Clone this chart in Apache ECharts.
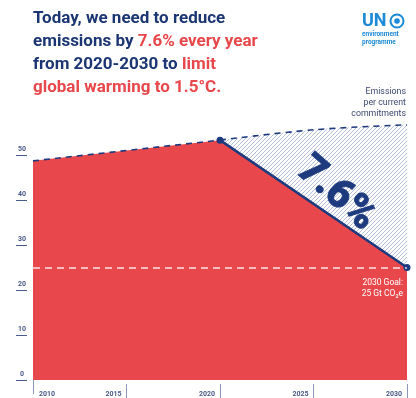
<!DOCTYPE html>
<html>
<head>
<meta charset="utf-8">
<script src="https://cdn.jsdelivr.net/npm/echarts@6/dist/echarts.min.js"></script>
<style>
  html, body { margin: 0; padding: 0; background: #ffffff; }
  #chart { width: 416px; height: 398px; }
</style>
</head>
<body>
<div id="chart"></div>
<script>
// Global emissions, Gt CO2e
const historyYears = [2010, 2020];
const historyValues = [48.7, 53.3];
const pathwayYears = [2020, 2030];
const pathwayValues = [53.3, 25];
const commitmentYears = [2020, 2025, 2030];
const commitmentValues = [53.3, 55.6, 56.7];
const goalValue = 25;
const yTicks = [0, 10, 20, 30, 40, 50];
const xFirstTick = [2010];
const xOtherTicks = [2015, 2020, 2025, 2030];

const NAVY = '#1d3a7e';
const RED = '#e8474b';
const AXIS_TEXT = '#4a5a88';

// diagonal hatch used for the "current commitments" gap
function hatchPattern() {
  const s = 4;
  const c = document.createElement('canvas');
  c.width = s; c.height = s;
  const g = c.getContext('2d');
  g.fillStyle = '#ffffff';
  g.fillRect(0, 0, s, s);
  g.strokeStyle = '#95a3cc';
  g.lineWidth = 0.7;
  g.beginPath();
  g.moveTo(-1, s + 1); g.lineTo(s + 1, -1);
  g.moveTo(-1, 1); g.lineTo(1, -1);
  g.moveTo(s - 1, s + 1); g.lineTo(s + 1, s - 1);
  g.stroke();
  return { image: c, repeat: 'repeat' };
}

const pairs = (xs, ys) => xs.map((x, i) => [x, ys[i]]);
const redArea = pairs(historyYears, historyValues).concat(pairs(pathwayYears, pathwayValues).slice(1));

const chart = echarts.init(document.getElementById('chart'));

const tickStyle = { show: true, length: 14, lineStyle: { color: '#8c96b6', width: 1 } };
const xLabelStyle = { margin: 7, fontSize: 7, fontWeight: 'bold', color: AXIS_TEXT, fontFamily: 'Roboto',
  formatter: v => String(v) };

chart.setOption({
  animation: false,
  grid: { left: 33, right: 9, top: 110, bottom: 18 },
  xAxis: [
    {
      type: 'value', min: 2010, max: 2030, position: 'bottom', offset: 4,
      splitLine: { show: false }, axisLine: { show: false },
      axisTick: Object.assign({}, tickStyle, { customValues: xFirstTick }),
      axisLabel: Object.assign({}, xLabelStyle, { customValues: xFirstTick, align: 'left', padding: [0, 0, 0, 6] })
    },
    {
      type: 'value', min: 2010, max: 2030, position: 'bottom', offset: 4,
      splitLine: { show: false }, axisLine: { show: false },
      axisTick: Object.assign({}, tickStyle, { customValues: xOtherTicks }),
      axisLabel: Object.assign({}, xLabelStyle, { customValues: xOtherTicks, align: 'right', padding: [0, 5, 0, 0] })
    }
  ],
  yAxis: {
    type: 'value', min: 0, max: 60, offset: 6,
    splitLine: { show: false },
    axisLine: { show: false },
    axisTick: { show: true, customValues: yTicks, length: 11, lineStyle: { color: AXIS_TEXT, width: 1 } },
    axisLabel: { customValues: yTicks, align: 'center', verticalAlign: 'bottom', margin: 5,
      padding: [0, 0, 2, 0],
      fontSize: 7, fontWeight: 'bold', color: AXIS_TEXT, fontFamily: 'Roboto' }
  },
  series: [
    {
      name: 'Emissions per current commitments',
      type: 'line', xAxisIndex: 0, z: 1,
      data: pairs(commitmentYears, commitmentValues),
      smooth: 0.4, symbol: 'none',
      lineStyle: { color: NAVY, width: 1.6, type: [6, 5] },
      areaStyle: { color: hatchPattern(), opacity: 1, origin: 'start' },
      markPoint: {
        symbol: 'circle', symbolSize: 1, itemStyle: { color: 'rgba(0,0,0,0)' },
        data: [{ coord: [commitmentYears[2], commitmentValues[2]] }],
        label: {
          show: true, position: 'top', distance: 5, offset: [-1, 0], formatter: 'Emissions\nper current\ncommitments',
          align: 'right', verticalAlign: 'bottom',
          fontSize: 8.8, lineHeight: 11, color: '#3d4a70', fontFamily: 'Roboto'
        }
      }
    },
    {
      name: 'Emissions',
      type: 'line', xAxisIndex: 0, z: 2,
      data: redArea, symbol: 'none',
      lineStyle: { width: 0 },
      areaStyle: { color: RED, opacity: 1 },
      markLine: {
        silent: true, symbol: 'none',
        lineStyle: { color: 'rgba(255,255,255,0.85)', width: 1.5, type: [7, 5] },
        label: { show: false },
        data: [{ yAxis: goalValue }]
      }
    },
    {
      name: 'History',
      type: 'line', xAxisIndex: 0, z: 3,
      data: pairs(historyYears, historyValues), symbol: 'none',
      lineStyle: { color: NAVY, width: 1.6, type: [6, 5] }
    },
    {
      name: '1.5°C pathway',
      type: 'line', xAxisIndex: 0, z: 4,
      data: pairs(pathwayYears, pathwayValues),
      symbol: 'circle', symbolSize: 7, showAllSymbol: true,
      itemStyle: { color: NAVY },
      lineStyle: { color: NAVY, width: 2.5 },
      markPoint: {
        symbol: 'circle', symbolSize: 1, itemStyle: { color: 'rgba(0,0,0,0)' },
        data: [{ coord: [pathwayYears[1], pathwayValues[1]] }],
        label: {
          show: true, position: 'bottom', distance: 9, offset: [-4, 0], formatter: '2030 Goal:\n25 Gt CO₂e',
          align: 'right', verticalAlign: 'top',
          fontSize: 8.5, lineHeight: 11, color: '#ffffff', fontFamily: 'Roboto'
        }
      }
    }
  ]
});

// big percentage label, placed in data space
let pctPos = chart.convertToPixel({ gridIndex: 0 }, [2026.2, 41.3]);
if (!pctPos || isNaN(pctPos[0])) pctPos = [335, 194];

chart.setOption({
  graphic: [
    {
      type: 'text', left: 33, top: 10,
      style: {
        text: '{n|Today, we need to reduce}\n{n|emissions by }{r|7.6% every year}\n{n|from 2020-2030 to }{r|limit}\n{r|global warming to 1.5°C.}',
        rich: {
          n: { fontSize: 17, fontWeight: 'bold', fill: '#1b3672', fontFamily: 'Roboto', lineHeight: 23 },
          r: { fontSize: 17, fontWeight: 'bold', fill: RED, fontFamily: 'Roboto', lineHeight: 23 }
        }
      }
    },
    {
      type: 'text', x: pctPos[0], y: pctPos[1], rotation: -Math.PI * 41 / 180, z: 100,
      style: {
        text: '7.6%', align: 'center', verticalAlign: 'middle',
        fontSize: 41, fontWeight: 900, fill: NAVY, fontFamily: 'Roboto',
        stroke: NAVY, lineWidth: 0.8
      }
    },
    {
      type: 'group', left: 362, top: 12,
      children: [
        { type: 'text', x: 0, y: 0, style: { text: 'UN', fontSize: 18, fontWeight: 'bold', fill: '#1c8ad6', fontFamily: 'Roboto' } },
        { type: 'circle', shape: { cx: 35, cy: 9, r: 6.5 }, style: { fill: 'none', stroke: '#1c8ad6', lineWidth: 2 } },
        { type: 'circle', shape: { cx: 35, cy: 9, r: 2.8 }, style: { fill: '#1c8ad6' } },
        { type: 'text', x: 0, y: 19, style: { text: 'environment\nprogramme', fontSize: 6.5, lineHeight: 7.5, fontWeight: 'bold', fill: '#1c8ad6', fontFamily: 'Roboto' } }
      ]
    }
  ]
});
</script>
</body>
</html>
